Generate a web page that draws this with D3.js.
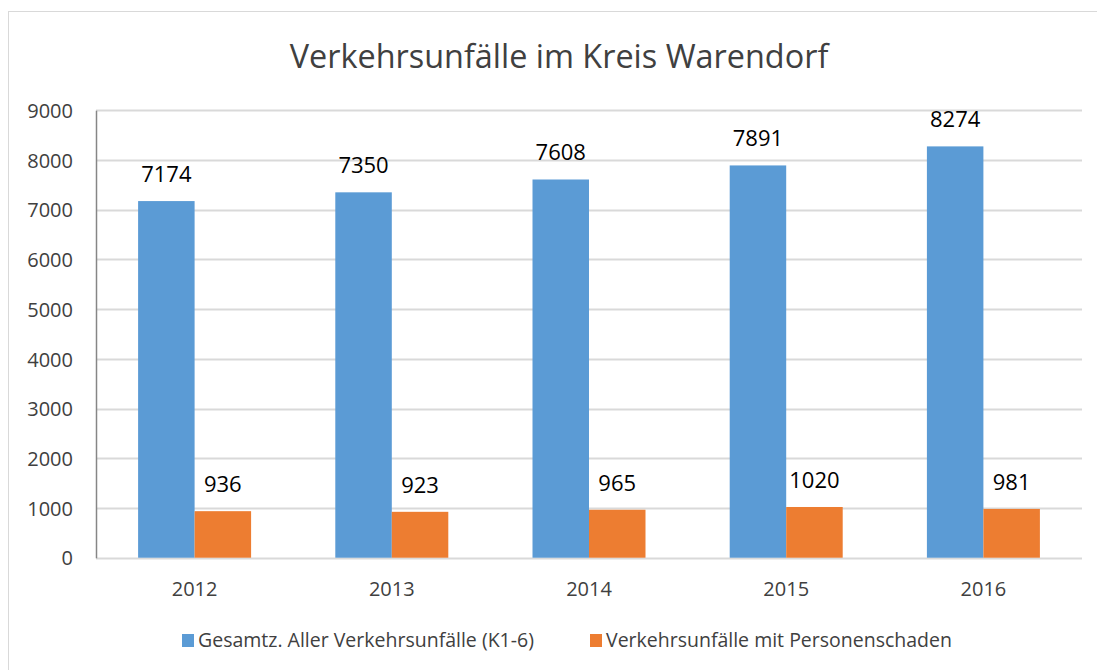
<!DOCTYPE html>
<html>
<head>
<meta charset="utf-8">
<script src="https://cdn.jsdelivr.net/npm/d3@7"></script>
<style>
    body { margin: 0; background: #fff; }
    svg { display: block; font-family: "Open Sans", sans-serif; }
</style>
</head>
<body>
<div id="chart"></div>
<script>
var years = ["2012", "2013", "2014", "2015", "2016"];
var seriesNames = ["Gesamtz. Aller Verkehrsunfälle (K1-6)", "Verkehrsunfälle mit Personenschaden"];
var totalAccidents = [7174, 7350, 7608, 7891, 8274];
var injuryAccidents = [936, 923, 965, 1020, 981];
var yTicks = [0, 1000, 2000, 3000, 4000, 5000, 6000, 7000, 8000, 9000];
var colors = ["#5B9BD5", "#ED7D31"];

var width = 1097;
var height = 670;

var svg = d3.select("#chart")
    .append("svg").attr("width", width).attr("height", height);

// chart frame
svg.append("rect")
    .attr("x", 8.5)
    .attr("y", 11.5)
    .attr("width", 1100)
    .attr("height", 700)
    .attr("fill", "none")
    .attr("stroke", "#d9d9d9");

var plot = { left: 96, right: 1082, top: 110.3, bottom: 557.7 };

var y = d3.scaleLinear().domain([0, 9000]).range([plot.bottom, plot.top]);

var x0 = d3.scaleBand()
    .domain(years)
    .range([plot.left, plot.right])
    .paddingInner(0.427)
    .paddingOuter(0.2135);

var x1 = d3.scaleBand()
    .domain([0, 1])
    .range([0, x0.bandwidth()]);

// gridlines
svg.append("g")
    .selectAll("line")
    .data(yTicks)
    .enter().append("line")
    .attr("x1", plot.left)
    .attr("x2", plot.right)
    .attr("y1", function (d) { return Math.round(y(d)) + 0.5; })
    .attr("y2", function (d) { return Math.round(y(d)) + 0.5; })
    .attr("stroke", "#d9d9d9")
    .attr("stroke-width", 2);

// y axis
var yAxis = svg.append("g")
    .attr("transform", "translate(" + plot.left + ",0)")
    .call(d3.axisLeft(y).tickValues(yTicks).tickFormat(d3.format("d")).tickSize(0).tickPadding(23));
yAxis.select(".domain").attr("stroke", "#868686").attr("stroke-width", 1.5);
yAxis.selectAll("text")
    .attr("font-size", "20px")
    .attr("font-family", "Open Sans")
    .attr("fill", "#404040")
    .attr("dy", "0.36em");

// x axis labels
var xAxis = svg.append("g")
    .attr("transform", "translate(0," + plot.bottom + ")")
    .call(d3.axisBottom(x0).tickSize(0).tickPadding(24));
xAxis.select(".domain").remove();
xAxis.selectAll("text")
    .attr("font-size", "20px")
    .attr("font-family", "Open Sans")
    .attr("fill", "#404040");

var rows = years.map(function (yr, i) {
    return { year: yr, values: [totalAccidents[i], injuryAccidents[i]] };
});

var groups = svg.append("g")
    .selectAll("g")
    .data(rows)
    .enter().append("g")
    .attr("transform", function (d) { return "translate(" + x0(d.year) + ",0)"; });

groups.selectAll("rect")
    .data(function (d) { return d.values.map(function (v, k) { return { k: k, v: v }; }); })
    .enter().append("rect")
    .attr("x", function (d) { return x1(d.k); })
    .attr("width", x1.bandwidth())
    .attr("y", function (d) { return y(d.v); })
    .attr("height", function (d) { return plot.bottom - y(d.v); })
    .attr("fill", function (d) { return colors[d.k]; });

groups.selectAll("text")
    .data(function (d) { return d.values.map(function (v, k) { return { k: k, v: v }; }); })
    .enter().append("text")
    .attr("x", function (d) { return x1(d.k) + x1.bandwidth() / 2; })
    .attr("y", function (d) { return y(d.v) - 19; })
    .attr("text-anchor", "middle")
    .attr("font-size", "22px")
    .attr("fill", "#000")
    .text(function (d) { return d.v; });

// title
svg.append("text")
    .attr("x", 559)
    .attr("y", 68)
    .attr("text-anchor", "middle")
    .attr("font-size", "32.4px")
    .attr("fill", "#404040")
    .text("Verkehrsunfälle im Kreis Warendorf");

// legend
var legendX = [182, 590];
var legend = svg.append("g")
    .selectAll("g")
    .data(seriesNames)
    .enter().append("g")
    .attr("transform", function (d, i) { return "translate(" + legendX[i] + ",634)"; });

legend.append("rect")
    .attr("width", 12)
    .attr("height", 13)
    .attr("fill", function (d, i) { return colors[i]; });

legend.append("text")
    .attr("x", 16)
    .attr("y", 13)
    .attr("font-size", "19.5px")
    .attr("fill", "#404040")
    .text(function (d) { return d; });
</script>
</body>
</html>
